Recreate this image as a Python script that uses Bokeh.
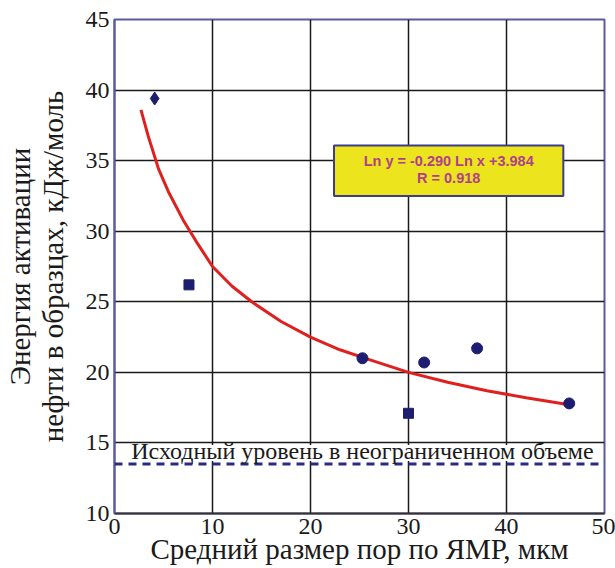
from bokeh.plotting import figure
from bokeh.models import (Range1d, FixedTicker, LinearAxis, Span, BoxAnnotation,
                          Label, ColumnDataSource)
from bokeh.embed import file_html
from bokeh.resources import INLINE

# ---- data ----
pore_size = [4.1, 7.6, 25.3, 30.0, 31.6, 37.0, 46.4]          # mkm
activation_energy = [39.4, 26.2, 21.0, 17.1, 20.7, 21.7, 17.8]  # kJ/mol

trend_x = [2.7, 3.5, 4.5, 5.5, 7, 8.5, 10, 12, 14, 17, 20, 23, 26, 30, 34, 38, 42, 46.4]
trend_y = [38.6, 36.6, 34.4, 32.8, 30.8, 29.1, 27.5, 26.1, 25.0, 23.6, 22.5, 21.6,
           20.9, 20.0, 19.3, 18.7, 18.2, 17.7]

baseline_level = 13.5
baseline_text = "Исходный уровень в неограниченном объеме"
equation_lines = ["Ln y = -0.290 Ln x +3.984", "R = 0.918"]

x_ticks = [0, 10, 20, 30, 40, 50]
y_ticks = [10, 15, 20, 25, 30, 35, 40, 45]

x_title = "Средний размер пор по ЯМР, мкм"
y_title_1 = "Энергия активации"
y_title_2 = "нефти в образцах, кДж/моль"

# ---- styles ----
SERIF = "Liberation Serif"
TXT = "#1a1a1a"
FRAME = "#5b5b9b"
NAVY = "#1e1e70"

p = figure(width=615, height=568, output_backend="svg", toolbar_location=None,
           x_range=Range1d(0, 50), y_range=Range1d(10, 45),
           min_border_left=113, min_border_right=11, min_border_top=19,
           min_border_bottom=55)
p.background_fill_color = "white"
p.border_fill_color = "white"
p.outline_line_color = FRAME
p.outline_line_width = 2

# grid
p.xgrid.ticker = FixedTicker(ticks=x_ticks)
p.ygrid.ticker = FixedTicker(ticks=y_ticks)
p.grid.grid_line_color = TXT
p.grid.grid_line_width = 1.5

# axes
for ax in (p.xaxis[0], p.yaxis[0]):
    ax.major_tick_out = 0
    ax.major_tick_in = 0
    ax.minor_tick_out = 0
    ax.minor_tick_in = 0
    ax.major_label_text_font = SERIF
    ax.major_label_text_font_size = "24px"
    ax.major_label_text_color = TXT
    ax.axis_label_text_font = SERIF
    ax.axis_label_text_font_style = "normal"
    ax.axis_label_text_font_size = "29px"
    ax.axis_label_text_color = TXT
    ax.axis_label_text_line_height = 1.0
    ax.axis_line_width = 2

p.xaxis[0].ticker = FixedTicker(ticks=x_ticks)
p.yaxis[0].ticker = FixedTicker(ticks=y_ticks)
p.xaxis[0].axis_label = x_title
p.xaxis[0].axis_line_color = "#333333"
p.xaxis[0].major_label_standoff = 5
p.xaxis[0].axis_label_standoff = -4
p.yaxis[0].axis_label = y_title_2
p.yaxis[0].axis_line_color = FRAME
p.yaxis[0].major_label_standoff = 5
p.yaxis[0].axis_label_standoff = 14

outer = LinearAxis(axis_label=y_title_1, ticker=FixedTicker(ticks=[]),
                   axis_line_color=None, major_tick_out=0, major_tick_in=0,
                   minor_tick_out=0, minor_tick_in=0,
                   major_label_text_font_size="0px", major_label_standoff=0,
                   axis_label_standoff=-2)
outer.axis_label_text_font = SERIF
outer.axis_label_text_font_style = "normal"
outer.axis_label_text_font_size = "29px"
outer.axis_label_text_line_height = 1.0
outer.axis_label_text_color = TXT
p.add_layout(outer, "left")

# white band behind baseline text (hides grid lines)
p.add_layout(BoxAnnotation(bottom=13.72, top=14.85, left=0.3, right=49.7,
                           fill_color="white", fill_alpha=1.0, line_color=None))

# baseline (dashed)
p.add_layout(Span(location=baseline_level, dimension="width", line_color="#2b2b85",
                  line_dash="8 6", line_width=3))
p.add_layout(Label(x=25.3, y=14.42, text=baseline_text, text_align="center",
                   text_baseline="alphabetic", text_font=SERIF,
                   text_font_size="24px", text_color=TXT))

# trend line
p.line(trend_x, trend_y, line_color="#e0201e", line_width=3)

# points
markers = ["diamond", "square", "circle", "square", "circle", "circle", "circle"]
sizes = [13, 10, 11, 10, 11, 11, 11]
src = ColumnDataSource(dict(x=pore_size, y=activation_energy, m=markers, s=sizes))
p.scatter("x", "y", source=src, marker="m", size="s", fill_color=NAVY,
          line_color=NAVY)

# equation box
p.add_layout(BoxAnnotation(left=22.4, right=45.8, bottom=32.5, top=36.07,
                           fill_color="#ece41c", fill_alpha=1.0,
                           line_color="#3c3c8c", line_width=2, line_alpha=1.0))
for txt, yy in zip(equation_lines, [35.0, 33.75]):
    p.add_layout(Label(x=34.1, y=yy, text=txt, text_align="center",
                       text_baseline="middle", text_font="Liberation Sans",
                       text_font_style="bold", text_font_size="14.5px",
                       text_color="#b0408c"))

open("out.html", "w").write(file_html(p, INLINE))
